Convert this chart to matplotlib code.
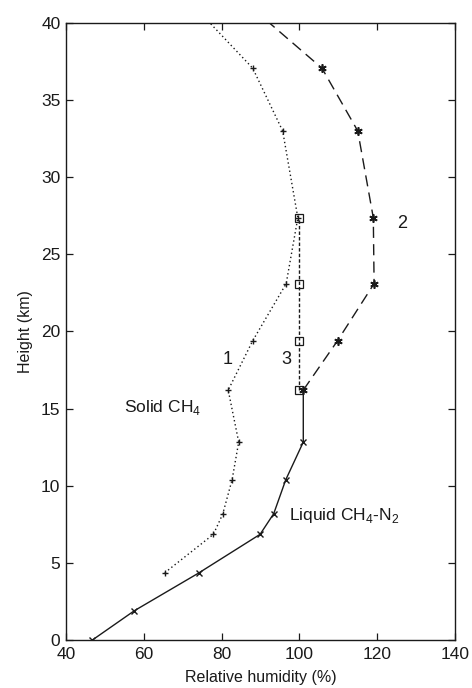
import matplotlib
matplotlib.use("Agg")
import matplotlib.pyplot as plt

plt.rcParams['font.family'] = ['Liberation Sans', 'DejaVu Sans']
plt.rcParams['mathtext.fontset'] = 'custom'
plt.rcParams['mathtext.rm'] = 'Liberation Sans'

# curve 1: solid CH4 (dotted, + markers); last point lies above the frame
solid_rh = [65.4, 77.9, 80.3, 82.7, 84.4, 81.7, 88.0, 96.6, 99.6, 95.7, 88.0, 69.5]
solid_h = [4.36, 6.85, 8.17, 10.39, 12.83, 16.2, 19.4, 23.1, 27.37, 33.0, 37.07, 42.0]

# liquid CH4-N2 (solid, x markers)
liquid_rh = [46.8, 57.6, 74.1, 89.9, 93.4, 96.5, 101.0, 101.0]
liquid_h = [0.0, 1.9, 4.34, 6.85, 8.19, 10.39, 12.83, 16.2]

# curve 2 (dashed, asterisks); last point lies above the frame
c2_rh = [101.0, 109.8, 119.2, 119.0, 115.0, 105.8, 83.1]
c2_h = [16.2, 19.4, 23.1, 27.37, 33.0, 37.07, 42.0]

# curve 3 (short dashes, squares)
c3_rh = [100.0, 100.0, 100.0, 100.0]
c3_h = [16.2, 19.4, 23.1, 27.37]

ink = '#1a1a1a'

fig = plt.figure(figsize=(4.72, 6.88), dpi=100)
ax = fig.add_axes([0.1398, 0.0698, 0.8242, 0.8968])

ax.plot(solid_rh, solid_h, linestyle=(0, (1, 2)), color=ink, linewidth=1.0,
        marker='+', markersize=5, markeredgewidth=1.0)
ax.plot(liquid_rh, liquid_h, linestyle='-', color=ink, linewidth=1.0,
        marker='x', markersize=5, markeredgewidth=1.0, markevery=list(range(7)))
ax.plot(c2_rh, c2_h, linestyle=(0, (8, 4.5)), color=ink, linewidth=1.0,
        marker=(6, 2, 0), markersize=6, markeredgewidth=1.2)
ax.plot(c3_rh, c3_h, linestyle=(0, (2.5, 1.5)), color=ink, linewidth=1.0,
        marker='s', markersize=5.5, markerfacecolor='none', markeredgewidth=0.9)

ax.set_xlim(40, 140)
ax.set_ylim(0, 40)
ax.set_xticks([40, 60, 80, 100, 120, 140])
ax.set_yticks([0, 5, 10, 15, 20, 25, 30, 35, 40])
ax.tick_params(direction='in', top=True, right=True, length=5, width=0.9,
               labelsize=12.5, colors=ink)
ax.tick_params(axis='x', pad=5)
ax.tick_params(axis='y', pad=4)
for s in ax.spines.values():
    s.set_linewidth(1.0)
    s.set_color(ink)

ax.set_xlabel("Relative humidity (%)", fontsize=11.5, color=ink, labelpad=6)
ax.set_ylabel("Height (km)", fontsize=11.5, color=ink, labelpad=6)

ax.text(81.5, 18.2, "1", fontsize=13, color=ink, ha='center', va='center')
ax.text(96.6, 18.2, "3", fontsize=13, color=ink, ha='center', va='center')
ax.text(126.3, 27.0, "2", fontsize=13, color=ink, ha='center', va='center')
ax.text(54.8, 15.1, "Solid CH$_4$", fontsize=12.5, color=ink, ha='left', va='center')
ax.text(97.4, 8.1, "Liquid CH$_4$-N$_2$", fontsize=12.5, color=ink, ha='left', va='center')

fig.savefig("out.png", dpi=100)
